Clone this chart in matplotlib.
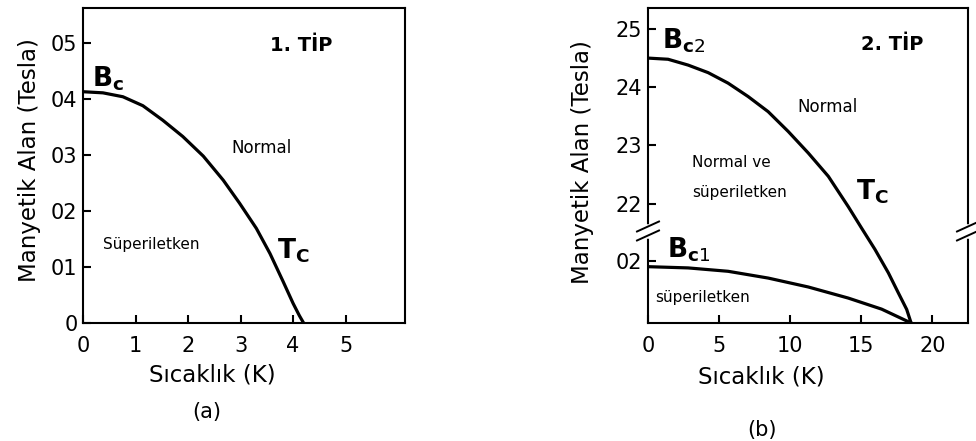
import numpy as np
import matplotlib
matplotlib.use("Agg")
import matplotlib.pyplot as plt

plt.rcParams['font.family'] = ['DejaVu Sans']
plt.rcParams['mathtext.fontset'] = 'dejavusans'

# (a) tip 1: critical field curve
t1 = [0, 0.38, 0.76, 1.14, 1.52, 1.90, 2.29, 2.67, 2.98, 3.30, 3.56, 3.81, 4.00, 4.12, 4.20]
b1 = [0.413, 0.411, 0.404, 0.388, 0.362, 0.333, 0.298, 0.255, 0.214, 0.169, 0.124, 0.074,
      0.035, 0.013, 0.0]
yt1 = [0, 0.1, 0.2, 0.3, 0.4, 0.5]
yl1 = ['0', '01', '02', '03', '04', '05']
xt1 = [0, 1, 2, 3, 4, 5]

# (b) tip 2: upper part in 21.5..25.4, lower part in 0..0.03 (broken axis)
t2 = [0, 1.41, 2.82, 4.23, 5.63, 7.04, 8.45, 9.86, 11.27, 12.68, 14.08, 15.02,
      15.96, 16.9, 17.6, 18.19, 18.5]
bc2 = [24.50, 24.48, 24.38, 24.25, 24.07, 23.84, 23.58, 23.24, 22.87, 22.47, 21.95, 21.58,
       0.0239, 0.0163, 0.0098, 0.0044, 0.0]
t3 = [0, 2.82, 5.63, 8.45, 11.27, 14.08, 16.43, 18.5]
bc1 = [0.0183, 0.0179, 0.0168, 0.0146, 0.0117, 0.0081, 0.0045, 0.0]
yt2 = [0.02, 22, 23, 24, 25]
yl2 = ['02', '22', '23', '24', '25']
xt2 = [0, 5, 10, 15, 20]

A, B = 0.0292, 21.5   # break values


def fwd(y):
    y = np.asarray(y, float)
    lo = y / A * 90
    mid = 90 + (y - A) / (B - A) * 0.3
    hi = 90.3 + (y - B) * 58.33
    return np.where(y <= A, lo, np.where(y >= B, hi, mid))


def inv(d):
    d = np.asarray(d, float)
    lo = d / 90 * A
    mid = A + (d - 90) / 0.3 * (B - A)
    hi = B + (d - 90.3) / 58.33
    return np.where(d <= 90, lo, np.where(d >= 90.3, hi, mid))


fig = plt.figure(figsize=(9.76, 4.41), dpi=100)
W, H = 976, 441
ax1 = fig.add_axes([83 / W, (H - 323) / H, 322 / W, 315 / H])
ax2 = fig.add_axes([648 / W, (H - 323) / H, 320 / W, 315 / H])

for ax in (ax1, ax2):
    for s in ax.spines.values():
        s.set_linewidth(1.5)
    ax.tick_params(direction='in', length=6, width=1.5, labelsize=15)
    ax.tick_params(axis='x', pad=9)
    ax.tick_params(axis='y', pad=4)

# panel a
ax1.plot(t1, b1, color='black', lw=2.3, solid_capstyle='butt')
ax1.set_xlim(0, 6.13)
ax1.set_ylim(0, 0.5625)
ax1.set_xticks(xt1)
ax1.set_yticks(yt1)
ax1.set_yticklabels(yl1)
ax1.text(4.15, 0.496, '1. TİP', fontsize=14, fontweight='bold', ha='center', va='center')
ax1.text(0.17, 0.422, r'$\mathbf{B_c}$', fontsize=19, ha='left', va='baseline')
ax1.text(3.40, 0.3125, 'Normal', fontsize=12, ha='center', va='center')
ax1.text(1.29, 0.141, 'Süperiletken', fontsize=11, ha='center', va='center')
ax1.text(3.70, 0.116, r'$\mathbf{T_C}$', fontsize=19, ha='left', va='baseline')

# panel b
ax2.set_yscale('function', functions=(fwd, inv))
ax2.plot(t2, bc2, color='black', lw=2.3)
ax2.plot(t3, bc1, color='black', lw=2.3)
ax2.set_xlim(0, 22.5)
ax2.set_ylim(0, 25.36)
ax2.set_xticks(xt2)
ax2.set_yticks(yt2)
ax2.set_yticklabels(yl2)
ax2.minorticks_off()
ax2.text(17.2, 24.73, '2. TİP', fontsize=14, fontweight='bold', ha='center', va='center')
ax2.text(0.95, 24.66, r'$\mathbf{B}_{\mathbf{c}\mathrm{2}}$', fontsize=19, ha='left', va='baseline')
ax2.text(12.6, 23.66, 'Normal', fontsize=12, ha='center', va='center')
ax2.text(3.1, 22.70, 'Normal ve', fontsize=11, ha='left', va='center')
ax2.text(3.1, 22.19, 'süperiletken', fontsize=11, ha='left', va='center')
ax2.text(14.6, 22.07, r'$\mathbf{T_C}$', fontsize=19, ha='left', va='baseline')
ax2.text(1.35, 0.0213, r'$\mathbf{B}_{\mathbf{c}\mathrm{1}}$', fontsize=19, ha='left', va='baseline')
ax2.text(0.5, 0.0082, 'süperiletken', fontsize=11, ha='left', va='center')

# break marks on both side spines
c = 92 / 315
dx, dy = 1 / 320, 1 / 315
for xs in (0, 1):
    ax2.plot([xs, xs], [c - 4.5 * dy, c + 4.5 * dy], color='white', lw=4,
             transform=ax2.transAxes, clip_on=False, zorder=5)
    for off in (-4.5, 4.5):
        ax2.plot([xs - 11 * dx, xs + 11 * dx], [c + (off - 5) * dy, c + (off + 5) * dy],
                 color='black', lw=1.4, transform=ax2.transAxes, clip_on=False, zorder=6)

# axis labels and captions
fig.text(30 / W, 1 - 160 / H, 'Manyetik Alan (Tesla)', rotation=90, fontsize=16.5,
         ha='center', va='center')
fig.text(212 / W, 1 - 375 / H, 'Sıcaklık (K)', fontsize=16.5, ha='center', va='center')
fig.text(207 / W, 1 - 412 / H, '(a)', fontsize=15, ha='center', va='center')
fig.text(582 / W, 1 - 162 / H, 'Manyetik Alan (Tesla)', rotation=90, fontsize=16.5,
         ha='center', va='center')
fig.text(761 / W, 1 - 377 / H, 'Sıcaklık (K)', fontsize=16.5, ha='center', va='center')
fig.text(762 / W, 1 - 430 / H, '(b)', fontsize=15, ha='center', va='center')

fig.savefig('out.png', dpi=100)
